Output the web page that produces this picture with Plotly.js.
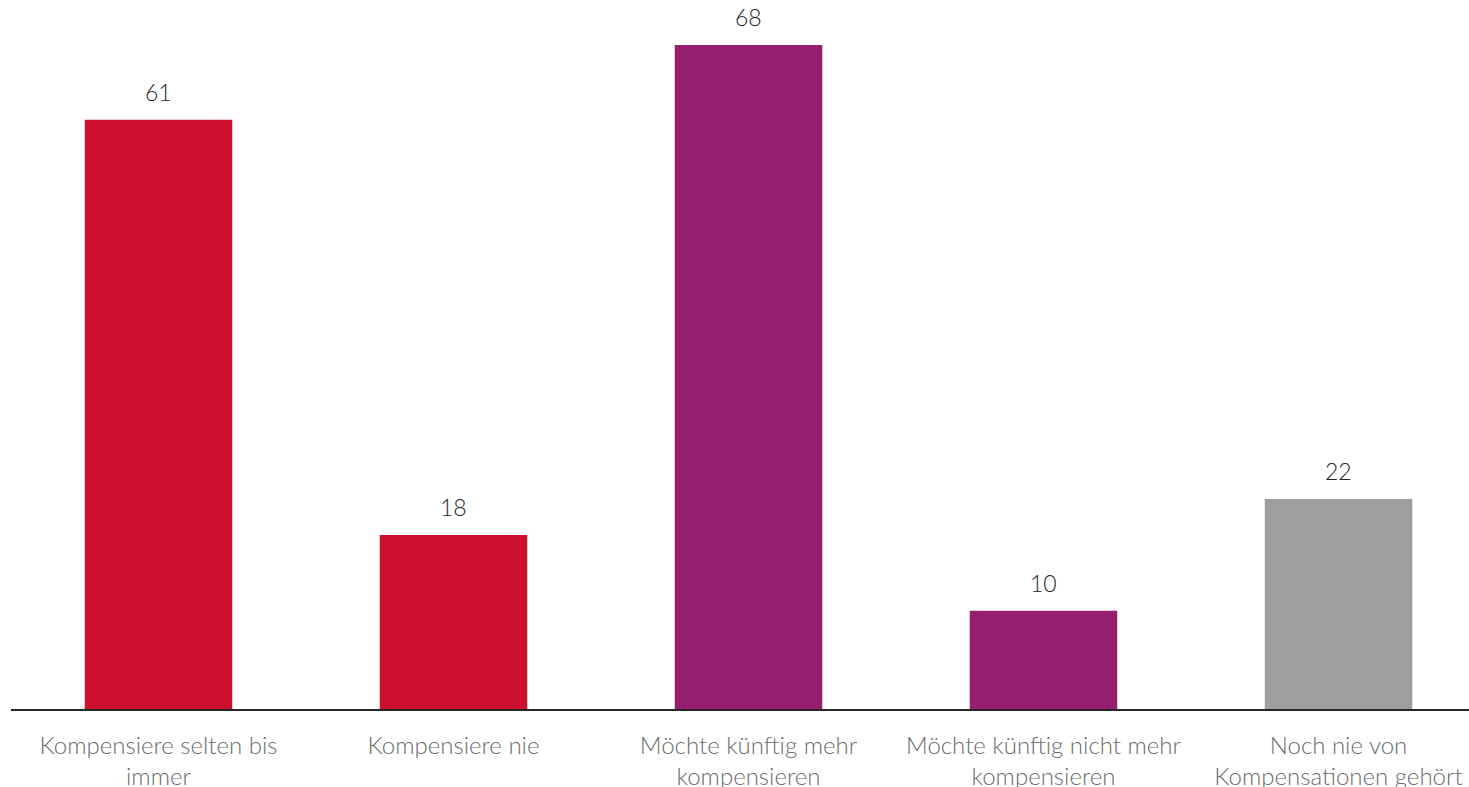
<!DOCTYPE html>
<html>
<head>
<meta charset="utf-8">
<script src="https://cdn.plot.ly/plotly-3.0.1.min.js"></script>
<style>
html,body{margin:0;padding:0;overflow:hidden;background:#fff;}
#chart{width:1500px;height:787px;}
</style>
</head>
<body>
<div id="chart"></div>
<script>
const categories = [
  "Kompensiere selten bis<br>immer",
  "Kompensiere nie",
  "Möchte künftig mehr<br>kompensieren",
  "Möchte künftig nicht mehr<br>kompensieren",
  "Noch nie von<br>Kompensationen gehört"
];
const values = [60.6, 17.9, 68.3, 10.1, 21.6];
const barColors = ["#CE1030", "#CE1030", "#951E6E", "#951E6E", "#9D9E9D"];

const trace = {
  type: "bar",
  x: categories,
  y: values,
  marker: {color: barColors},
  hoverinfo: "skip"
};

const annotations = categories.map((c, i) => ({
  x: c,
  y: values[i],
  xref: "x",
  yref: "y",
  text: String(Math.round(values[i])),
  showarrow: false,
  yanchor: "middle",
  yshift: 28,
  font: {family: "Lato, 'Open Sans', sans-serif", size: 23, weight: 300, color: "#262626"}
}));

const layout = {
  width: 1500,
  height: 787,
  margin: {l: 11, r: 14, t: 9, b: 78},
  paper_bgcolor: "#ffffff",
  plot_bgcolor: "#ffffff",
  bargap: 0.5,
  showlegend: false,
  xaxis: {
    type: "category",
    showline: true,
    linecolor: "#262626",
    linewidth: 2,
    showgrid: false,
    zeroline: false,
    ticks: "",
    ticklabelstandoff: 14,
    tickfont: {family: "Lato, 'Open Sans', sans-serif", size: 24, weight: 300, color: "#6b6b6b"}
  },
  yaxis: {
    range: [0, 72],
    visible: false,
    showgrid: false,
    zeroline: false
  },
  annotations: annotations
};

Plotly.newPlot("chart", [trace], layout, {displayModeBar: false, staticPlot: true});
</script>
</body>
</html>
